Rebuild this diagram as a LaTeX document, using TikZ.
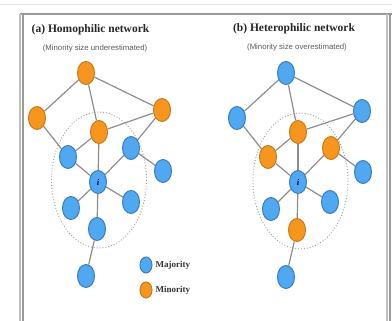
\documentclass[tikz,border=0pt]{standalone}
\usepackage{fontspec}
\setmainfont{Liberation Serif}
\newfontfamily\subfont{Liberation Sans}
\usetikzlibrary{shapes.geometric}
\pgfdeclarelayer{bg}
\pgfsetlayers{bg,main}
\definecolor{bfill}{HTML}{4FA8F0}
\definecolor{bdraw}{HTML}{3B7CC0}
\definecolor{ofill}{HTML}{F7961E}
\definecolor{odraw}{HTML}{C77A18}
\definecolor{edgec}{HTML}{8C8C8C}
\definecolor{framec}{HTML}{9A9A9A}
\tikzset{
  nd/.style={ellipse,minimum width=17pt,minimum height=23pt,inner sep=0pt,line width=1pt},
  maj/.style={nd,fill=bfill,draw=bdraw},
  mino/.style={nd,fill=ofill,draw=odraw},
  legmaj/.style={maj,minimum width=12pt,minimum height=16pt},
  legmin/.style={mino,minimum width=12pt,minimum height=16pt},
  lnk/.style={draw=edgec,line width=1.2pt},
  hood/.style={draw=black!40,dotted,line width=0.9pt},
  ttl/.style={font=\bfseries\fontsize{11.5}{13}\selectfont,text=black!85},
  sub/.style={font=\subfont\fontsize{7.8}{9}\selectfont,text=black!65},
  leg/.style={font=\bfseries\fontsize{9}{11}\selectfont,text=black!80,anchor=west},
  ilab/.style={font=\bfseries\itshape\fontsize{9}{10}\selectfont,text=blue!40!black}
}
\begin{document}
\begin{tikzpicture}[x=1pt,y=-1pt]
\useasboundingbox (0,0) rectangle (392,321);
% frame
\draw[black!10,line width=1pt] (0,4.5) -- (392,4.5);
\draw[framec,line width=2pt] (20,14.5) -- (392,14.5);
\draw[black!25,line width=2pt] (19.5,14) -- (19.5,321);
\draw[framec,line width=2.5pt] (23,14) -- (23,321);
\draw[black!25,line width=2pt] (387,14) -- (387,321);
\draw[framec,line width=2.5pt] (390,14) -- (390,321);
% titles
\node[ttl] (ta) at (90.5,30) {(a) Homophilic network};
\node[sub] (sa) at (95,48) {(Minority size underestimated)};
\node[ttl] (tb) at (294,29) {(b) Heterophilic network};
\node[sub] (sb) at (297,47) {(Minority size overestimated)};
% panel (a)
\node[mino] (at) at (86,73) {};
\node[mino] (al) at (37,118) {};
\node[mino] (ar) at (162,110) {};
\node[mino] (am) at (99,132) {};
\node[maj] (abr) at (131,148) {};
\node[maj] (abl) at (68,157) {};
\node[maj] (afr) at (163,171) {};
\node[maj] (ai) at (98,182) {};
\node[maj] (all) at (71,208) {};
\node[maj] (alr) at (131,202) {};
\node[maj] (ab) at (97,229) {};
\node[maj] (ao) at (86,276) {};
\node[ilab] at (ai) {i};
% panel (b)
\node[maj] (bt) at (286,73) {};
\node[maj] (bl) at (237,118) {};
\node[maj] (br) at (362,111) {};
\node[mino] (bm) at (298,132) {};
\node[mino] (bbr) at (331,148) {};
\node[mino] (bbl) at (268,157) {};
\node[maj] (bfr) at (363,172) {};
\node[maj] (bi) at (298,182) {};
\node[maj] (bll) at (271,209) {};
\node[maj] (blr) at (330,202) {};
\node[mino] (bb) at (297,230) {};
\node[maj] (bo) at (286,277) {};
\node[ilab] at (bi) {i};
\begin{pgfonlayer}{bg}
% neighbourhoods
\draw[hood] (99,180) ellipse [x radius=47.5, y radius=68];
\draw[hood] (300.5,181) ellipse [x radius=47.5, y radius=68];
% links
\foreach \p in {a,b}{
  \draw[lnk] (\p t) -- (\p l);
  \draw[lnk] (\p t) -- (\p r);
  \draw[lnk] (\p t) -- (\p m);
  \draw[lnk] (\p l) -- (\p bl);
  \draw[lnk] (\p m) -- (\p r);
  \draw[lnk] (\p m) -- (\p bl);
  \draw[lnk] (\p m) -- (\p i);
  \draw[lnk] (\p r) -- (\p br);
  \draw[lnk] (\p br) -- (\p i);
  \draw[lnk] (\p br) -- (\p fr);
  \draw[lnk] (\p bl) -- (\p i);
  \draw[lnk] (\p i) -- (\p ll);
  \draw[lnk] (\p i) -- (\p lr);
  \draw[lnk] (\p i) -- (\p b);
  \draw[lnk] (\p b) -- (\p o);
}
\end{pgfonlayer}
% legend
\node[legmaj] (lm) at (146,265) {};
\node[leg] (lmt) at (152,265) {Majority};
\node[legmin] (ln) at (146,290) {};
\node[leg] (lnt) at (152,290) {Minority};
\end{tikzpicture}
\end{document}
